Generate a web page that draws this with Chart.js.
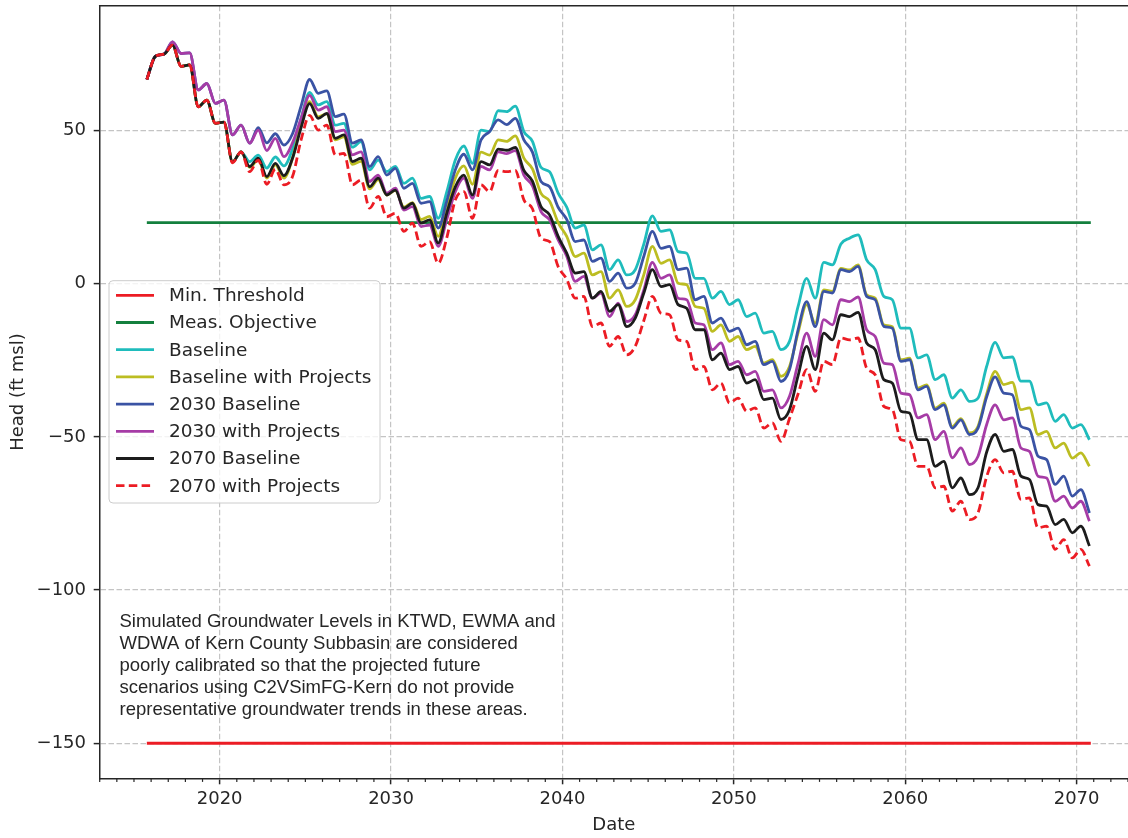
<!DOCTYPE html>
<html><head><meta charset="utf-8">
<script src="https://cdn.jsdelivr.net/npm/chart.js@4.4.1/dist/chart.umd.min.js"></script>
<style>html,body{margin:0;padding:0;background:#fff;overflow:hidden}#wrap{width:1128px;height:838px;position:relative}</style>
</head><body><div id="wrap"><canvas id="c" width="1128" height="838"></canvas></div>
<script>
// ---- data (years, ft msl) ----
const dates = [
 2015.75,
 2016.25,2016.75,2017.25,2017.75,2018.25,2018.75,2019.25,2019.75,
 2020.25,2020.75,2021.25,2021.75,2022.25,2022.75,2023.25,2023.75,2024.25,2024.75,2025.25,2025.75,2026.25,2026.75,2027.25,2027.75,2028.25,2028.75,2029.25,2029.75,
 2030.25,2030.75,2031.25,2031.75,2032.25,2032.75,2033.25,2033.75,2034.25,2034.75,2035.25,2035.75,2036.25,2036.75,2037.25,2037.75,2038.25,2038.75,2039.25,2039.75,
 2040.25,2040.75,2041.25,2041.75,2042.25,2042.75,2043.25,2043.75,2044.25,2044.75,2045.25,2045.75,2046.25,2046.75,2047.25,2047.75,2048.25,2048.75,2049.25,2049.75,
 2050.25,2050.75,2051.25,2051.75,2052.25,2052.75,2053.25,2053.75,2054.25,2054.75,2055.25,2055.75,2056.25,2056.75,2057.25,2057.75,2058.25,2058.75,2059.25,2059.75,
 2060.25,2060.75,2061.25,2061.75,2062.25,2062.75,2063.25,2063.75,2064.25,2064.75,2065.25,2065.75,2066.25,2066.75,2067.25,2067.75,2068.25,2068.75,2069.25,2069.75,
 2070.25,2070.75
];
const baseline = [
 66.7,
 74.3,75.0,77.9,71.0,71.5,57.8,60.0,52.4,
 52.8,39.8,43.1,39.9,42.0,37.8,41.4,38.5,44.0,54.0,62.5,58.4,59.5,51.8,52.4,44.6,46.4,37.2,40.4,36.6,
 38.3,32.8,34.5,27.9,28.5,21.4,30.0,40.4,45.0,39.3,50.2,49.7,56.5,56.2,58.0,49.7,46.5,38.0,36.6,29.6,
 25.0,18.2,19.2,11.1,12.7,4.6,7.8,2.9,4.6,13.0,22.2,17.1,17.6,10.5,10.0,1.8,1.8,-4.7,-2.5,-6.8,
 -5.2,-10.7,-9.6,-16.1,-15.5,-21.5,-18.8,-7.4,1.8,-4.7,7.0,6.2,13.0,14.9,16.0,7.8,4.6,-4.1,-5.2,-14.5,
 -14.5,-24.2,-23.2,-31.3,-29.7,-37.3,-34.6,-38.4,-37.3,-27.0,-19.1,-24.2,-23.9,-31.8,-31.8,-39.5,-38.9,-44.9,-42.7,-47.1,
 -46.0,-50.9
];
const baselineProjects = [
 66.7,
 74.3,75.0,77.9,71.0,71.5,57.8,60.0,52.4,
 52.8,39.8,43.1,38.0,40.5,34.5,38.8,34.5,41.0,52.0,59.5,54.5,55.5,47.0,48.0,39.0,40.0,31.0,34.0,29.0,
 30.5,25.0,26.5,21.0,22.0,15.5,25.0,34.5,38.5,32.5,43.0,42.0,47.0,46.5,48.3,41.0,37.5,29.5,27.0,20.0,
 15.5,8.9,10.0,2.9,4.0,-4.7,-2.0,-7.4,-5.2,3.0,12.2,6.7,7.8,0.2,-0.3,-7.4,-8.0,-15.5,-13.4,-18.8,
 -17.2,-21.5,-20.4,-25.9,-24.8,-30.2,-27.0,-16.0,-6.8,-12.8,-2.0,-2.5,5.0,4.5,6.2,-3.6,-4.7,-13.4,-14.0,-24.8,
 -24.3,-34.1,-33.0,-40.6,-39.0,-46.6,-44.0,-48.7,-46.5,-36.0,-28.6,-32.9,-32.2,-41.1,-40.5,-49.2,-48.2,-53.6,-52.0,-56.9,
 -55.2,-59.6
];
const baseline2030 = [
 66.7,
 74.3,75.0,79.0,75.2,75.4,63.3,65.4,58.9,
 60.0,48.6,51.8,45.9,51.0,46.0,49.0,45.3,49.0,58.0,66.7,62.2,63.0,54.6,55.4,45.9,47.0,38.3,41.5,35.5,
 37.7,31.2,32.8,26.3,26.8,18.2,27.0,37.2,42.3,37.2,47.0,49.7,53.5,52.0,54.0,47.0,43.0,33.4,31.7,25.0,
 21.0,13.8,14.3,7.3,8.4,0.8,3.5,-1.4,0.2,9.0,17.1,11.6,12.2,4.6,5.1,-5.2,-4.1,-12.8,-11.2,-15.5,
 -14.5,-19.9,-18.8,-26.4,-25.3,-31.9,-28.0,-15.0,-5.8,-14.0,-2.5,-3.0,4.6,4.0,5.7,-4.1,-5.2,-13.9,-14.5,-25.3,
 -24.8,-34.6,-33.5,-41.1,-39.5,-47.1,-44.4,-49.2,-47.1,-37.0,-30.4,-35.7,-36.2,-46.5,-47.6,-56.3,-57.4,-65.5,-62.8,-69.3,
 -67.2,-74.8
];
const projects2030 = [
 66.7,
 74.3,75.0,79.0,75.2,75.4,63.3,65.4,58.9,
 60.0,48.6,51.8,45.9,50.2,43.5,47.5,41.5,46.0,54.0,61.5,56.7,57.8,49.7,50.2,42.1,43.1,33.4,35.5,29.6,
 31.2,24.1,25.2,18.7,19.2,12.2,21.0,30.1,34.5,27.9,38.3,37.2,43.1,42.5,43.5,35.5,32.0,23.6,20.9,14.3,
 9.0,0.8,2.4,-4.7,-3.0,-10.7,-6.3,-12.3,-10.1,-2.0,7.0,1.8,2.9,-4.7,-5.2,-12.8,-13.4,-21.5,-19.3,-26.4,
 -25.3,-29.7,-28.6,-35.1,-34.6,-40.5,-36.7,-26.0,-16.1,-23.7,-11.7,-13.4,-5.2,-5.8,-4.3,-15.0,-17.2,-25.9,-26.4,-35.7,
 -36.2,-43.8,-42.7,-50.9,-48.2,-56.8,-53.6,-59.0,-56.3,-46.0,-39.5,-44.4,-43.8,-53.6,-54.7,-62.8,-63.4,-71.0,-69.3,-73.2,
 -71.0,-77.5
];
const baseline2070 = [
 66.7,
 74.3,75.0,77.9,71.0,71.5,57.8,60.0,52.4,
 52.8,39.8,43.1,38.3,41.0,35.0,39.3,35.3,41.0,51.0,58.8,54.0,55.6,47.5,48.6,39.9,41.0,31.7,34.5,29.0,
 30.6,24.7,26.3,19.8,20.9,13.3,23.0,31.7,35.5,29.0,39.9,38.8,44.0,43.6,44.5,37.0,33.5,25.2,22.5,15.5,
 10.0,3.5,4.0,-4.7,-2.5,-9.0,-6.8,-14.0,-11.2,-3.0,4.6,-0.9,-0.3,-6.8,-8.0,-15.0,-15.0,-24.8,-22.6,-28.0,
 -27.0,-32.4,-31.3,-37.8,-37.3,-44.3,-41.1,-30.0,-20.4,-28.0,-16.1,-18.3,-10.1,-10.7,-9.3,-19.3,-21.5,-31.3,-32.4,-41.6,
 -42.2,-50.9,-50.9,-59.6,-58.0,-66.6,-63.4,-68.8,-66.6,-55.0,-49.2,-54.7,-54.1,-62.8,-63.9,-72.1,-72.6,-78.6,-76.9,-81.3,
 -79.1,-85.6
];
const projects2070 = [
 66.7,
 74.3,75.0,77.9,71.0,71.5,57.8,60.0,52.4,
 52.8,39.5,43.1,36.6,40.4,32.5,37.4,32.3,35.0,47.0,55.0,50.2,51.8,42.1,42.6,32.3,33.9,24.7,28.5,21.9,
 23.0,17.1,19.8,12.2,13.8,6.7,15.0,27.4,30.1,21.4,32.3,30.1,37.0,36.6,37.0,27.4,24.5,14.9,13.8,5.6,
 1.5,-4.7,-4.1,-14.0,-12.8,-20.4,-17.2,-23.2,-20.4,-12.0,-4.1,-9.6,-10.1,-18.3,-18.8,-28.0,-27.0,-34.6,-32.4,-38.9,
 -37.3,-41.6,-40.5,-47.1,-45.4,-51.4,-44.0,-36.0,-28.0,-35.1,-25.3,-26.4,-17.7,-18.3,-17.7,-27.5,-29.7,-40.0,-41.1,-50.9,
 -51.4,-59.6,-59.6,-66.6,-66.1,-74.2,-71.0,-77.0,-74.8,-63.0,-57.4,-61.7,-61.2,-70.4,-69.9,-79.7,-79.1,-86.7,-83.5,-89.5,
 -86.7,-92.2
];
const minThreshold = -150;
const measObjective = 20;
const thresholdSpan = [2015.75, 2070.83];
const xTickValues = [2020, 2030, 2040, 2050, 2060, 2070];
const yTickValues = [-150, -100, -50, 0, 50];
const legendLabels = ['Min. Threshold','Meas. Objective','Baseline','Baseline with Projects','2030 Baseline','2030 with Projects','2070 Baseline','2070 with Projects'];
const noteLines = [
 'Simulated Groundwater Levels in KTWD, EWMA and',
 'WDWA of Kern County Subbasin are considered',
 'poorly calibrated so that the projected future',
 'scenarios using C2VSimFG-Kern do not provide',
 'representative groundwater trends in these areas.'
];

// ---- styles ----
const TXT = '#262626';
const FONT = '"DejaVu Sans", sans-serif';
const colors = ['#ec1c24','#14803e','#1fbcbc','#bcbd22','#3a53a4','#a63ca6','#1c1c1c','#ec1c24'];
const dashes = [[],[],[],[],[],[],[],[8.5,4.3]];
const pts = arr => dates.map((d, i) => ({x: d, y: arr[i]}));
const seriesData = [
  thresholdSpan.map(x => ({x, y: minThreshold})),
  thresholdSpan.map(x => ({x, y: measObjective})),
  pts(baseline), pts(baselineProjects), pts(baseline2030), pts(projects2030), pts(baseline2070), pts(projects2070)
];
const N = seriesData.length;
const datasets = seriesData.map((d, i) => ({
  label: legendLabels[i], data: d, borderColor: colors[i], backgroundColor: colors[i],
  borderWidth: 2.8, borderDash: dashes[i], pointRadius: 0, fill: false,
  cubicInterpolationMode: 'monotone', order: N - 1 - i
}));

const extras = {
  id: 'extras',
  afterDraw(chart) {
    const {ctx, chartArea: a, scales: {x}} = chart;
    ctx.save();
    // top spine
    ctx.strokeStyle = TXT; ctx.lineWidth = 1.5;
    ctx.beginPath(); ctx.moveTo(a.left - 0.75, a.top); ctx.lineTo(a.right, a.top); ctx.stroke();
    // minor ticks every year
    ctx.lineWidth = 1.2;
    for (let yr = Math.ceil(x.min); yr <= Math.floor(x.max); yr++) {
      if (yr % 10 === 0) continue;
      const px = x.getPixelForValue(yr);
      ctx.beginPath(); ctx.moveTo(px, a.bottom); ctx.lineTo(px, a.bottom + 3.6); ctx.stroke();
    }
    // legend
    const L = {x: 109, y: 280.7, w: 271, h: 222.3, r: 4, row0: 295.3, dy: 27.2};
    ctx.beginPath();
    ctx.roundRect(L.x, L.y, L.w, L.h, L.r);
    ctx.fillStyle = 'rgba(255,255,255,0.8)'; ctx.fill();
    ctx.strokeStyle = '#cccccc'; ctx.lineWidth = 1; ctx.stroke();
    ctx.font = '18.5px ' + FONT; ctx.textBaseline = 'middle'; ctx.textAlign = 'left';
    chart.data.datasets.forEach((ds, i) => {
      const yy = L.row0 + i * L.dy;
      ctx.strokeStyle = ds.borderColor; ctx.lineWidth = ds.borderWidth;
      ctx.setLineDash(ds.borderDash || []);
      ctx.beginPath(); ctx.moveTo(116, yy); ctx.lineTo(154, yy); ctx.stroke();
      ctx.setLineDash([]);
      ctx.fillStyle = TXT; ctx.fillText(ds.label, 169, yy + 1);
    });
    // note
    ctx.font = '18.5px "Liberation Sans", Arial, sans-serif';
    ctx.fillStyle = TXT; ctx.textBaseline = 'middle';
    noteLines.forEach((t, i) => ctx.fillText(t, 119.5, 621.7 + i * 22.1));
    ctx.restore();
  }
};

new Chart(document.getElementById('c'), {
  type: 'line',
  data: {datasets},
  options: {
    responsive: false, animation: false, devicePixelRatio: 1,
    layout: {padding: {top: 5.7, left: 0, right: 0, bottom: 0}},
    plugins: {legend: {display: false}, tooltip: {enabled: false}},
    scales: {
      x: {
        type: 'linear', min: 2013.0, max: 2073.0,
        afterBuildTicks: s => { s.ticks = xTickValues.map(v => ({value: v})); },
        afterFit: s => { s.height = 59.7; s.paddingLeft = 0; s.paddingRight = 0; s.paddingTop = 0; s.paddingBottom = 0; },
        ticks: {callback: v => String(v), color: TXT, font: {family: FONT, size: 18}, padding: 4, maxRotation: 0, autoSkip: false},
        grid: {color: '#c4c4c4', lineWidth: 1.2, tickColor: TXT, tickLength: 6, tickWidth: 1.5, tickBorderDash: []},
        border: {display: true, color: TXT, width: 1.5, dash: [5.5, 2.5]},
        title: {display: true, text: 'Date', color: TXT, font: {family: FONT, size: 18}, padding: {top: 0, bottom: 2.2}}
      },
      y: {
        type: 'linear', min: -161.45, max: 90.8,
        afterBuildTicks: s => { s.ticks = yTickValues.map(v => ({value: v})); },
        afterFit: s => { s.width = 99.7; s.paddingTop = 0; s.paddingBottom = 0; s.paddingLeft = 0; s.paddingRight = 0; },
        ticks: {callback: v => (v < 0 ? '\u2212' + Math.abs(v) : String(v)), color: TXT, font: {family: FONT, size: 18}, padding: 7.7},
        grid: {color: '#c4c4c4', lineWidth: 1.2, tickColor: TXT, tickLength: 6, tickWidth: 1.5, tickBorderDash: []},
        border: {display: true, color: TXT, width: 1.5, dash: [5.5, 2.5]},
        title: {display: true, text: 'Head (ft msl)', color: TXT, font: {family: FONT, size: 18}, padding: {top: 7.2, bottom: 0}}
      }
    }
  },
  plugins: [extras]
});
</script></body></html>
